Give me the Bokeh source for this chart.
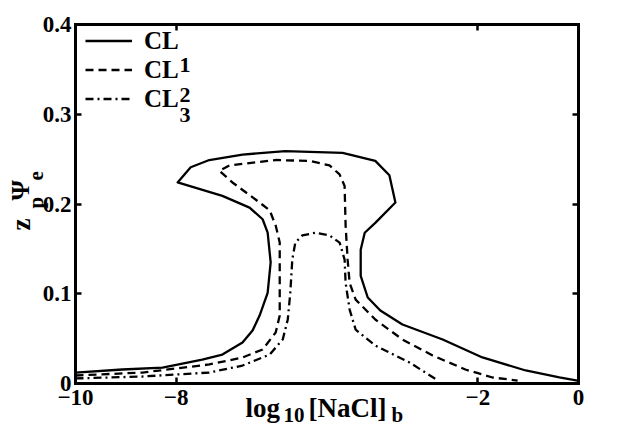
from bokeh.plotting import figure
from bokeh.models import Range1d, FixedTicker, LinearAxis, Label, Legend, LegendItem
from bokeh.embed import file_html
from bokeh.resources import INLINE

# ---- data ----
cl1_x = [-10.0, -9.07, -8.27, -7.48, -7.08, -6.68, -6.48, -6.34, -6.18, -6.12, -6.18, -6.28,
         -6.54, -7.08, -7.97, -7.71, -7.34, -6.68, -5.83, -4.69, -4.04, -3.76, -3.64, -4.04,
         -4.25, -4.33, -4.33, -4.19, -3.94, -3.50, -2.70, -1.91, -1.05, -0.38, -0.02]
cl1_y = [0.0122, 0.0156, 0.0178, 0.0267, 0.0323, 0.0457, 0.059, 0.0757, 0.101, 0.135, 0.168, 0.183,
         0.196, 0.209, 0.224, 0.241, 0.249, 0.255, 0.259, 0.257, 0.248, 0.232, 0.2016, 0.179,
         0.168, 0.149, 0.120, 0.0958, 0.0813, 0.0657, 0.0490, 0.0290, 0.0145, 0.0067, 0.0033]

cl2_x = [-10.0, -8.67, -7.34, -6.68, -6.28, -6.02, -5.94, -5.94, -5.94, -6.02, -6.14, -6.42,
         -6.88, -7.14, -6.94, -6.02, -5.35, -4.95, -4.75, -4.65, -4.63, -4.59, -4.55, -4.43,
         -4.04, -3.50, -2.90, -2.25, -1.71, -1.21]
cl2_y = [0.0089, 0.0122, 0.0212, 0.029, 0.0379, 0.0568, 0.0757, 0.120, 0.157, 0.176, 0.193, 0.205,
         0.224, 0.237, 0.243, 0.249, 0.248, 0.243, 0.233, 0.220, 0.176, 0.138, 0.112, 0.0935,
         0.0713, 0.049, 0.0312, 0.0156, 0.0067, 0.0033]

cl3_x = [-10.0, -8.67, -7.34, -6.68, -6.14, -5.88, -5.78, -5.73, -5.69, -5.63, -5.49, -5.23,
         -4.95, -4.75, -4.65, -4.63, -4.55, -4.43, -4.04, -3.36, -2.84]
cl3_y = [0.0056, 0.0078, 0.0122, 0.020, 0.0323, 0.049, 0.0713, 0.101, 0.138, 0.157, 0.165, 0.168,
         0.165, 0.157, 0.138, 0.112, 0.0824, 0.060, 0.0423, 0.0234, 0.0050]

x_ticks = [-10, -8, -2, 0]
x_tick_labels = ["\u221210", "\u22128", "\u22122", "0"]
y_ticks = [0, 0.1, 0.2, 0.3, 0.4]
y_tick_labels = ["0", "0.1", "0.2", "0.3", "0.4"]
series_names = ["CL", "CL", "CL"]
series_subs = ["1", "2", "3"]

FONT = "Liberation Serif"
W, H = 625, 424
# frame covers the whole figure; axes are pinned at the data box edges
PX_X = 50.3      # px per x unit
PX_Y = 897.5     # px per y unit
LEFT, RIGHT, TOP, BOTTOM = 75, 47, 24, 41

p = figure(width=W, height=H, output_backend="svg", toolbar_location=None,
           x_range=Range1d(-10 - LEFT / PX_X, 0 + RIGHT / PX_X),
           y_range=Range1d(0 - BOTTOM / PX_Y, 0.4 + TOP / PX_Y),
           min_border_left=0, min_border_right=0, min_border_top=0, min_border_bottom=0)
p.xgrid.visible = False
p.ygrid.visible = False
p.outline_line_color = None
p.background_fill_color = "white"
p.border_fill_color = "white"


def style_axis(ax, ticks, labels, show, loc, bounds):
    ax.fixed_location = loc
    ax.bounds = bounds
    ax.ticker = FixedTicker(ticks=ticks)
    ax.major_tick_in = 6
    ax.major_tick_out = 0
    ax.major_tick_line_width = 2.5
    ax.minor_tick_line_color = None
    ax.axis_line_width = 3
    ax.axis_line_cap = "square"
    ax.major_label_text_font = FONT
    ax.major_label_text_font_style = "bold"
    ax.major_label_text_font_size = "23px"
    ax.major_label_text_color = "black"
    if show:
        ax.major_label_overrides = {t: l for t, l in zip(ticks, labels)}
    else:
        ax.major_label_overrides = {t: "" for t in ticks}
        ax.major_label_text_alpha = 0


style_axis(p.xaxis[0], x_ticks, x_tick_labels, True, 0, (-10, 0))
p.xaxis[0].major_label_standoff = 6
style_axis(p.yaxis[0], y_ticks, y_tick_labels, True, -10, (0, 0.4))
p.yaxis[0].major_label_standoff = 4

top_ax = LinearAxis()
right_ax = LinearAxis()
style_axis(top_ax, x_ticks, x_tick_labels, False, 0.4, (-10, 0))
style_axis(right_ax, y_ticks, y_tick_labels, False, 0, (0, 0.4))
p.add_layout(top_ax, "above")
p.add_layout(right_ax, "right")

r1 = p.line(cl1_x, cl1_y, line_color="black", line_width=2.3, line_join="round")
r2 = p.line(cl2_x, cl2_y, line_color="black", line_width=2.3, line_dash="8 5")
r3 = p.line(cl3_x, cl3_y, line_color="black", line_width=2.3, line_dash="8 4 2 4")

legend = Legend(items=[LegendItem(label=n, renderers=[r]) for n, r in zip(series_names, [r1, r2, r3])],
                location=(85, 311), orientation="vertical")
legend.background_fill_alpha = 0
legend.border_line_color = None
legend.padding = 0
legend.margin = 0
legend.spacing = 0
legend.glyph_width = 47
legend.glyph_height = 29
legend.label_height = 29
legend.label_standoff = 12
legend.label_text_font = FONT
legend.label_text_font_style = "bold"
legend.label_text_font_size = "25px"
legend.label_text_color = "black"
p.add_layout(legend)


def add_text(t, sx, sy, fs, angle=0.0):
    p.add_layout(Label(x=sx, y=sy, x_units="screen", y_units="screen", text=t, angle=angle,
                       text_font=FONT, text_font_style="bold", text_font_size=fs,
                       text_color="black", text_baseline="alphabetic", text_align="left"))


# subscripts of legend entries
for s, (sx, sy) in zip(series_subs, [(179, 360), (179, 330), (179, 310)]):
    add_text(s, sx, sy, "22px")

# x-axis label pieces
for t, sx, sy, fs in [("log", 245, 17, "27px"), ("10", 283, 10, "21px"),
                      ("[NaCl]", 308, 17, "27px"), ("b", 391, 10, "21px")]:
    add_text(t, sx, sy, fs)

# y-axis label pieces, rotated
for t, sx, sy, fs in [("z", 20, 194, "27px"), ("p", 35, 216, "21px"),
                      ("\u03a8", 20, 224, "26px"), ("e", 35, 244, "21px")]:
    add_text(t, sx, sy, fs, angle=1.5708)

open("out.html", "w").write(file_html(p, INLINE))
